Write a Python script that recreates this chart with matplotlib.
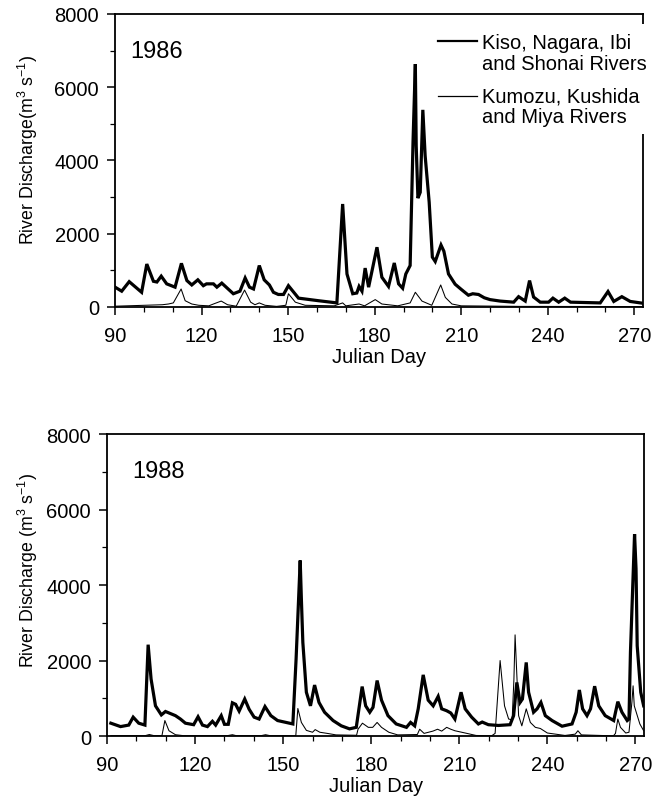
import numpy as np
import matplotlib
matplotlib.use('Agg')
import matplotlib.pyplot as plt
from matplotlib.lines import Line2D
from matplotlib.patches import Rectangle
from matplotlib.ticker import MultipleLocator

plt.rcParams['font.family'] = ['Liberation Sans', 'DejaVu Sans']
plt.rcParams['mathtext.fontset'] = 'custom'
plt.rcParams['mathtext.rm'] = 'Liberation Sans'
plt.rcParams['mathtext.it'] = 'Liberation Sans:italic'

#####DATA#############################
# 1986, Kiso/Nagara/Ibi/Shonai (thick)
days86_k = [90, 92.3, 94.9, 99.2, 101, 103.3, 104.5, 106, 107.9, 110.8, 113, 114.9, 116.6, 118.7,
            120.6, 121.7, 124.1, 125.3, 127, 131, 133.3, 135.1, 136.6, 138, 140, 141.7, 143.5, 144.9,
            146.6, 148.4, 150.1, 153.6, 160.5, 166.9, 168.9, 170.4, 172.4, 173.8, 174.6, 175.6, 176.7,
            177.9, 180.8, 182.5, 184.8, 186.8, 188.3, 189.7, 190.8, 192.3, 193.3, 194.1, 194.4, 195,
            195.8, 196.7, 197.5, 198.9, 200, 201, 203, 204, 205.6, 207.9, 210, 212.5, 214, 216, 218,
            220, 223.5, 228.2, 229.9, 232.2, 233.7, 235.1, 237.4, 240.3, 241.8, 243.8, 245.9, 247.9,
            258.2, 260.9, 262.9, 265.7, 268.6, 273]
kiso86 = [540, 430, 690, 400, 1170, 700, 680, 840, 630, 540, 1190, 720, 600, 740,
          580, 630, 630, 540, 650, 360, 430, 790, 540, 490, 1130, 740, 600, 400,
          340, 340, 580, 240, 170, 110, 2810, 900, 360, 380, 560, 430, 1060,
          540, 1630, 810, 560, 1200, 630, 510, 900, 1130, 4500, 6630, 4400, 2970,
          3130, 5380, 4130, 2860, 1360, 1240, 1690, 1520, 900, 620, 480, 320, 360, 340, 250,
          200, 160, 130, 280, 160, 720, 270, 130, 130, 240, 130, 240, 130,
          110, 420, 150, 280, 150, 100]

# 1986, Kumozu/Kushida/Miya (thin)
days86_m = [90, 106.4, 108.5, 110.2, 112.9, 114.3, 116.6, 119, 122.5, 124.1, 126.8, 129, 132,
            134.9, 137, 138.5, 140, 142, 146, 149.2, 150.1, 152.5, 155.9, 166, 168.9, 170, 174.6,
            176.5, 180.2, 182.5, 188, 192.3, 194.1, 196.4, 199.8, 202.9, 204.5, 206.8, 210, 230, 273]
kumo86 = [20, 60, 80, 110, 490, 170, 80, 45, 30, 80, 160, 60, 20,
          460, 130, 60, 110, 45, 15, 45, 360, 130, 45, 30, 110, 30, 80,
          30, 200, 80, 30, 110, 400, 160, 45, 600, 260, 80, 30, 15, 10]

# 1988, Kiso/Nagara/Ibi/Shonai (thick)
days88_k = [91.3, 94.6, 97.4, 98.9, 100.8, 102.9, 104, 105, 106.5, 108.5, 109.9, 113.3, 115, 116.7,
            119.5, 121, 122.5, 124.2, 125.9, 127, 128.9, 130, 131.3, 132.7, 133.8, 135, 136.9, 138.4,
            140.1, 141.8, 143.8, 145.8, 148.1, 151, 153.3, 154.4, 155.8, 156.2, 156.7, 157.9, 159.3,
            160.7, 162.2, 164.1, 167, 169.8, 172.6, 174.9, 176.9, 178.1, 179.5, 180.6, 182, 183.5,
            185.7, 188.5, 192, 193.4, 194.8, 196, 197.7, 199.4, 201.1, 202.8, 204, 205.7, 207.1,
            208.5, 210.6, 212, 214.2, 216.5, 217.8, 219.9, 223.3, 227.3, 228.5, 229.6, 230.7, 231.5,
            232.8, 233.6, 235.3, 236.5, 237.8, 239.3, 241.6, 245, 248.4, 249.8, 250.9, 252, 253.5,
            254.7, 256.1, 257.5, 259.7, 262.6, 264, 265.4, 267.2, 267.8, 268.3, 269.7, 270.2, 270.6,
            271.8, 272.8]
kiso88 = [340, 250, 290, 500, 340, 290, 2420, 1510, 800, 560, 650, 540, 450, 340,
          300, 510, 290, 250, 390, 290, 540, 310, 310, 880, 840, 660, 980, 710,
          500, 450, 780, 540, 410, 360, 320, 2040, 4650, 3630, 2480, 1160, 800,
          1350, 890, 630, 410, 270, 190, 230, 1310, 800, 630, 760, 1470, 950,
          540, 320, 230, 360, 270, 720, 1620, 950, 800, 1050, 720, 670, 610,
          450, 1160, 720, 500, 320, 370, 300, 280, 300, 540, 1420, 890, 980,
          1950, 1160, 630, 720, 890, 540, 410, 260, 320, 630, 1220, 720, 540,
          720, 1320, 800, 540, 410, 910, 630, 410, 450, 2220, 5350, 4430, 2390,
          1160, 800]

# 1988, Kumozu/Kushida/Miya (thin)
days88_m = [91.3, 103, 104.4, 106, 108.7, 109.7, 111.1, 113.3, 116, 131, 132.7, 134, 142.5, 144,
            145.5, 154.3, 155, 156.2, 157.9, 160, 160.9, 162.5, 165, 168, 175, 175.5, 177, 179,
            180.5, 182, 183.5, 186, 189, 195.7, 196.5, 198, 199.5, 201, 202.6, 204, 205.7, 207.1,
            208.5, 212, 215.7, 221, 222.2, 223.9, 225.4, 226.8, 228, 228.6, 229, 230.2, 231.3,
            232.8, 234.2, 235.9, 237.6, 240, 246, 249.5, 250.4, 251.6, 262.5, 263.2, 264, 264.9,
            266.7, 267.8, 268.8, 269.2, 269.6, 271.5, 272.8]
kumo88 = [10, 10, 40, 10, 10, 410, 140, 35, 10, 10, 35, 10, 10, 35,
          10, 10, 730, 360, 150, 100, 170, 100, 70, 30, 20, 180, 340, 230,
          230, 360, 230, 100, 30, 40, 180, 70, 100, 130, 180, 130, 230, 180,
          140, 80, 15, 5, 70, 2000, 800, 450, 430, 1500, 2680, 540, 270,
          720, 360, 230, 200, 80, 15, 50, 140, 30, 5, 70, 450, 230,
          80, 100, 900, 1330, 800, 320, 140]

years = ['1986', '1988']
ylabels = ['River Discharge(m$^3$ s$^{-1}$)', 'River Discharge (m$^3$ s$^{-1}$)']
legend_labels = ['Kiso, Nagara, Ibi\nand Shonai Rivers', 'Kumozu, Kushida\nand Miya Rivers']

FS = 14.5
THICK = 2.3
THIN = 0.75

#############PLOT####################
fig = plt.figure(figsize=(6.69, 8.04), dpi=100)
ax1 = fig.add_axes([0.172, 0.617, 0.789, 0.3645])
ax2 = fig.add_axes([0.160, 0.0833, 0.803, 0.3756])

data = [(days86_k, kiso86, days86_m, kumo86), (days88_k, kiso88, days88_m, kumo88)]
label_xy = [(-0.142, 0.539), (-0.125, 0.55)]
for ax, (dk, vk, dm, vm), yl, lxy in zip([ax1, ax2], data, ylabels, label_xy):
    ax.plot(dk, vk, 'k-', lw=THICK, solid_joinstyle='miter')
    ax.plot(dm, vm, 'k-', lw=THIN)
    ax.set_xlim(90, 273)
    ax.set_ylim(0, 8000)
    ax.xaxis.set_major_locator(MultipleLocator(30))
    ax.xaxis.set_minor_locator(MultipleLocator(10))
    ax.yaxis.set_major_locator(MultipleLocator(2000))
    ax.yaxis.set_minor_locator(MultipleLocator(1000))
    ax.tick_params(which='major', direction='out', length=5.5, width=1.1, labelsize=FS, pad=6)
    ax.tick_params(which='minor', direction='out', length=3.5, width=0.9)
    ax.tick_params(axis='x', which='major', pad=8.5)
    for s in ax.spines.values():
        s.set_linewidth(1.3)
    ax.set_xlabel('Julian Day', fontsize=FS, labelpad=1)
    ax.set_ylabel(yl, fontsize=12.8)
    ax.yaxis.set_label_coords(*lxy)

ax1.text(0.028, 0.874, years[0], transform=ax1.transAxes, fontsize=17, va='center', ha='left')
ax2.text(0.046, 0.878, years[1], transform=ax2.transAxes, fontsize=17, va='center', ha='left')

# legend drawn by hand so the line sits on the first row of text
ax1.add_patch(Rectangle((0.60, 0.59), 0.43, 0.375, transform=ax1.transAxes,
                        facecolor='white', edgecolor='none', zorder=3, clip_on=False))
ax1.add_line(Line2D([0.612, 0.686], [0.908, 0.908], transform=ax1.transAxes,
                    color='k', lw=1.6, zorder=4, clip_on=False))
ax1.add_line(Line2D([0.612, 0.686], [0.720, 0.720], transform=ax1.transAxes,
                    color='k', lw=0.9, zorder=4, clip_on=False))
ax1.text(0.695, 0.867, legend_labels[0], transform=ax1.transAxes, fontsize=FS,
         va='center', ha='left', linespacing=1.12, zorder=5)
ax1.text(0.695, 0.684, legend_labels[1], transform=ax1.transAxes, fontsize=FS,
         va='center', ha='left', linespacing=1.12, zorder=5)

plt.savefig('out.png', dpi=100)
